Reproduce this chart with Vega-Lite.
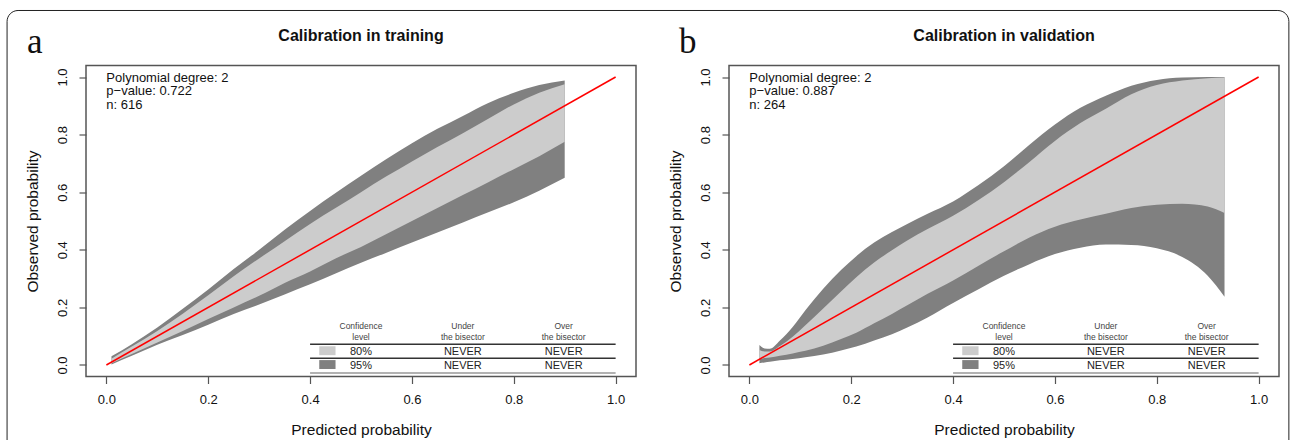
{
  "$schema": "https://vega.github.io/schema/vega-lite/v6.json",
  "background": "white",
  "autosize": {"type": "pad"},
  "padding": {"left": 5, "top": 8.5, "right": 5, "bottom": 0},
  "bounds": "flush",
  "spacing": 93,
  "config": {
    "view": {"stroke": "#555555", "strokeWidth": 1.5},
    "font": "Liberation Sans",
    "axis": {"domain": false, "grid": false, "ticks": true, "tickSize": 7, "tickColor": "#555555", "tickWidth": 1.2, "labelFont": "Liberation Sans", "labelFontSize": 13, "labelColor": "#111111", "labelPadding": 10, "titleFont": "Liberation Sans", "titleFontSize": 15.5, "titleFontWeight": "normal", "titleColor": "#111111", "titlePadding": 16},
    "axisY": {"labelAngle": -90, "labelAlign": "center", "labelBaseline": "bottom"}
  },
  "datasets": {
    "frame": [{"x": -0.195, "x2": 2.322, "y": -0.4, "y2": 1.231}],
    "bandA": [
      {"x": 0.01, "u95": 0.030, "u80": 0.022, "l80": 0.006, "l95": 0.002},
      {"x": 0.05, "u95": 0.072, "u80": 0.064, "l80": 0.038, "l95": 0.032},
      {"x": 0.10, "u95": 0.130, "u80": 0.118, "l80": 0.078, "l95": 0.070},
      {"x": 0.15, "u95": 0.195, "u80": 0.178, "l80": 0.118, "l95": 0.104},
      {"x": 0.20, "u95": 0.262, "u80": 0.242, "l80": 0.160, "l95": 0.140},
      {"x": 0.25, "u95": 0.333, "u80": 0.308, "l80": 0.200, "l95": 0.177},
      {"x": 0.30, "u95": 0.400, "u80": 0.370, "l80": 0.240, "l95": 0.210},
      {"x": 0.35, "u95": 0.470, "u80": 0.430, "l80": 0.285, "l95": 0.245},
      {"x": 0.40, "u95": 0.535, "u80": 0.490, "l80": 0.325, "l95": 0.280},
      {"x": 0.45, "u95": 0.597, "u80": 0.545, "l80": 0.370, "l95": 0.318},
      {"x": 0.50, "u95": 0.657, "u80": 0.600, "l80": 0.410, "l95": 0.355},
      {"x": 0.55, "u95": 0.715, "u80": 0.655, "l80": 0.455, "l95": 0.390},
      {"x": 0.60, "u95": 0.770, "u80": 0.707, "l80": 0.500, "l95": 0.425},
      {"x": 0.65, "u95": 0.820, "u80": 0.757, "l80": 0.545, "l95": 0.460},
      {"x": 0.70, "u95": 0.865, "u80": 0.805, "l80": 0.590, "l95": 0.495},
      {"x": 0.75, "u95": 0.910, "u80": 0.855, "l80": 0.635, "l95": 0.530},
      {"x": 0.80, "u95": 0.945, "u80": 0.905, "l80": 0.680, "l95": 0.565},
      {"x": 0.85, "u95": 0.972, "u80": 0.945, "l80": 0.725, "l95": 0.605},
      {"x": 0.90, "u95": 0.988, "u80": 0.975, "l80": 0.775, "l95": 0.650}
    ],
    "bandB": [
      {"x": 0.0197, "u95": 0.069, "u80": 0.052, "l80": 0.020, "l95": 0.006},
      {"x": 0.03, "u95": 0.057, "u80": 0.047, "l80": 0.024, "l95": 0.009},
      {"x": 0.04, "u95": 0.056, "u80": 0.047, "l80": 0.026, "l95": 0.011},
      {"x": 0.06, "u95": 0.085, "u80": 0.066, "l80": 0.032, "l95": 0.016},
      {"x": 0.085, "u95": 0.132, "u80": 0.098, "l80": 0.040, "l95": 0.021},
      {"x": 0.11, "u95": 0.190, "u80": 0.138, "l80": 0.049, "l95": 0.027},
      {"x": 0.145, "u95": 0.265, "u80": 0.196, "l80": 0.067, "l95": 0.036},
      {"x": 0.18, "u95": 0.330, "u80": 0.255, "l80": 0.090, "l95": 0.050},
      {"x": 0.21, "u95": 0.378, "u80": 0.305, "l80": 0.112, "l95": 0.064},
      {"x": 0.245, "u95": 0.425, "u80": 0.356, "l80": 0.145, "l95": 0.085},
      {"x": 0.28, "u95": 0.462, "u80": 0.398, "l80": 0.177, "l95": 0.107},
      {"x": 0.31, "u95": 0.490, "u80": 0.432, "l80": 0.207, "l95": 0.130},
      {"x": 0.35, "u95": 0.525, "u80": 0.472, "l80": 0.247, "l95": 0.165},
      {"x": 0.40, "u95": 0.568, "u80": 0.518, "l80": 0.293, "l95": 0.215},
      {"x": 0.45, "u95": 0.625, "u80": 0.573, "l80": 0.345, "l95": 0.263},
      {"x": 0.50, "u95": 0.690, "u80": 0.635, "l80": 0.395, "l95": 0.310},
      {"x": 0.55, "u95": 0.765, "u80": 0.705, "l80": 0.443, "l95": 0.350},
      {"x": 0.60, "u95": 0.835, "u80": 0.778, "l80": 0.480, "l95": 0.385},
      {"x": 0.65, "u95": 0.893, "u80": 0.840, "l80": 0.505, "l95": 0.407},
      {"x": 0.70, "u95": 0.935, "u80": 0.890, "l80": 0.525, "l95": 0.418},
      {"x": 0.75, "u95": 0.970, "u80": 0.940, "l80": 0.545, "l95": 0.417},
      {"x": 0.80, "u95": 0.990, "u80": 0.972, "l80": 0.556, "l95": 0.405},
      {"x": 0.85, "u95": 0.998, "u80": 0.988, "l80": 0.560, "l95": 0.375},
      {"x": 0.90, "u95": 1.000, "u80": 0.996, "l80": 0.550, "l95": 0.310},
      {"x": 0.933, "u95": 1.000, "u80": 0.998, "l80": 0.528, "l95": 0.237}
    ],
    "diag": [{"x": 0, "y": 0}, {"x": 1, "y": 1}],
    "annoA": [
      {"x": 0, "y": 0.996, "t": "Polynomial degree: 2"},
      {"x": 0, "y": 0.950, "t": "p−value: 0.722"},
      {"x": 0, "y": 0.903, "t": "n: 616"}
    ],
    "annoB": [
      {"x": 0, "y": 0.996, "t": "Polynomial degree: 2"},
      {"x": 0, "y": 0.950, "t": "p−value: 0.887"},
      {"x": 0, "y": 0.903, "t": "n: 264"}
    ],
    "labA": [{"x": -0.156, "y": 1.082, "t": "a"}],
    "labB": [{"x": -0.138, "y": 1.082, "t": "b"}],
    "titA": [{"x": 0.5, "y": 1.144, "t": "Calibration in training"}],
    "titB": [{"x": 0.5, "y": 1.144, "t": "Calibration in validation"}],
    "thead": [
      {"x": 0.5, "y": 0.135, "t": "Confidence"},
      {"x": 0.5, "y": 0.097, "t": "level"},
      {"x": 0.7, "y": 0.135, "t": "Under"},
      {"x": 0.7, "y": 0.097, "t": "the bisector"},
      {"x": 0.898, "y": 0.135, "t": "Over"},
      {"x": 0.898, "y": 0.097, "t": "the bisector"}
    ],
    "tbody": [
      {"x": 0.5, "y": 0.046, "t": "80%"},
      {"x": 0.7, "y": 0.046, "t": "NEVER"},
      {"x": 0.898, "y": 0.046, "t": "NEVER"},
      {"x": 0.5, "y": -0.003, "t": "95%"},
      {"x": 0.7, "y": -0.003, "t": "NEVER"},
      {"x": 0.898, "y": -0.003, "t": "NEVER"}
    ],
    "tlines": [
      {"x": 0.4, "x2": 1.0, "y": 0.072, "kind": "top"},
      {"x": 0.4, "x2": 1.0, "y": 0.023, "kind": "mid"},
      {"x": 0.4, "x2": 1.0, "y": -0.028, "kind": "bottom"}
    ],
    "tkeys": [
      {"level": "80%", "x": 0.418, "x2": 0.45, "y": 0.034, "y2": 0.065},
      {"level": "95%", "x": 0.418, "x2": 0.45, "y": -0.014, "y2": 0.017}
    ]
  },
  "hconcat": [
    {
      "width": 550,
      "height": 311,
      "layer": [
        {
          "data": {"name": "frame"},
          "mark": {"type": "rect", "fill": "transparent", "stroke": "#222222", "strokeWidth": 1, "cornerRadius": 11},
          "encoding": {
            "x": {"field": "x", "type": "quantitative", "title": "Predicted probability", "scale": {"domain": [-0.04, 1.04], "nice": false, "zero": false}, "axis": {"values": [0, 0.2, 0.4, 0.6, 0.8, 1], "format": ".1f"}},
            "x2": {"field": "x2"},
            "y": {"field": "y", "type": "quantitative", "title": "Observed probability", "scale": {"domain": [-0.04, 1.04], "nice": false, "zero": false}, "axis": {"values": [0, 0.2, 0.4, 0.6, 0.8, 1], "format": ".1f"}},
            "y2": {"field": "y2"}
          }
        },
        {
          "data": {"name": "bandA"},
          "mark": {"type": "area", "color": "#808080", "interpolate": "monotone"},
          "encoding": {
            "x": {"field": "x", "type": "quantitative", "title": "Predicted probability"},
            "y": {"field": "l95", "type": "quantitative", "title": "Observed probability"},
            "y2": {"field": "u95"}
          }
        },
        {
          "data": {"name": "bandA"},
          "mark": {"type": "area", "color": "#cccccc", "interpolate": "monotone"},
          "encoding": {
            "x": {"field": "x", "type": "quantitative", "title": "Predicted probability"},
            "y": {"field": "l80", "type": "quantitative", "title": "Observed probability"},
            "y2": {"field": "u80"}
          }
        },
        {
          "data": {"name": "diag"},
          "mark": {"type": "line", "color": "#ff0000", "strokeWidth": 1.5},
          "encoding": {
            "x": {"field": "x", "type": "quantitative", "title": "Predicted probability"},
            "y": {"field": "y", "type": "quantitative", "title": "Observed probability"}
          }
        },
        {
          "data": {"name": "annoA"},
          "mark": {"type": "text", "align": "left", "baseline": "middle", "fontSize": 13, "color": "#111111", "font": "Liberation Sans"},
          "encoding": {
            "x": {"field": "x", "type": "quantitative", "title": "Predicted probability"},
            "y": {"field": "y", "type": "quantitative", "title": "Observed probability"},
            "text": {"field": "t"}
          }
        },
        {
          "data": {"name": "labA"},
          "mark": {"type": "text", "align": "left", "baseline": "alphabetic", "fontSize": 35, "color": "#111111", "font": "Liberation Serif"},
          "encoding": {
            "x": {"field": "x", "type": "quantitative", "title": "Predicted probability"},
            "y": {"field": "y", "type": "quantitative", "title": "Observed probability"},
            "text": {"field": "t"}
          }
        },
        {
          "data": {"name": "titA"},
          "mark": {"type": "text", "align": "center", "baseline": "middle", "fontSize": 16, "fontWeight": "bold", "color": "#111111", "font": "Liberation Sans"},
          "encoding": {
            "x": {"field": "x", "type": "quantitative", "title": "Predicted probability"},
            "y": {"field": "y", "type": "quantitative", "title": "Observed probability"},
            "text": {"field": "t"}
          }
        },
        {
          "data": {"name": "tlines"},
          "mark": {"type": "rule", "strokeWidth": 1.5},
          "encoding": {
            "x": {"field": "x", "type": "quantitative", "title": "Predicted probability"},
            "x2": {"field": "x2"},
            "y": {"field": "y", "type": "quantitative", "title": "Observed probability"},
            "color": {"field": "kind", "type": "nominal", "legend": null, "scale": {"domain": ["top", "mid", "bottom"], "range": ["#333333", "#333333", "#999999"]}}
          }
        },
        {
          "data": {"name": "tkeys"},
          "mark": {"type": "rect"},
          "encoding": {
            "x": {"field": "x", "type": "quantitative", "title": "Predicted probability"},
            "x2": {"field": "x2"},
            "y": {"field": "y", "type": "quantitative", "title": "Observed probability"},
            "y2": {"field": "y2"},
            "fill": {"field": "level", "type": "nominal", "legend": null, "scale": {"domain": ["80%", "95%"], "range": ["#cccccc", "#808080"]}}
          }
        },
        {
          "data": {"name": "thead"},
          "mark": {"type": "text", "align": "center", "baseline": "middle", "fontSize": 8.5, "color": "#444444", "font": "Liberation Sans"},
          "encoding": {
            "x": {"field": "x", "type": "quantitative", "title": "Predicted probability"},
            "y": {"field": "y", "type": "quantitative", "title": "Observed probability"},
            "text": {"field": "t"}
          }
        },
        {
          "data": {"name": "tbody"},
          "mark": {"type": "text", "align": "center", "baseline": "middle", "fontSize": 11, "color": "#222222", "font": "Liberation Sans"},
          "encoding": {
            "x": {"field": "x", "type": "quantitative", "title": "Predicted probability"},
            "y": {"field": "y", "type": "quantitative", "title": "Observed probability"},
            "text": {"field": "t"}
          }
        }
      ]
    },
    {
      "width": 550,
      "height": 311,
      "layer": [
        {
          "data": {"name": "bandB"},
          "mark": {"type": "area", "color": "#808080", "interpolate": "monotone"},
          "encoding": {
            "x": {"field": "x", "type": "quantitative", "title": "Predicted probability", "scale": {"domain": [-0.04, 1.04], "nice": false, "zero": false}, "axis": {"values": [0, 0.2, 0.4, 0.6, 0.8, 1], "format": ".1f"}},
            "y": {"field": "l95", "type": "quantitative", "title": "Observed probability", "scale": {"domain": [-0.04, 1.04], "nice": false, "zero": false}, "axis": {"values": [0, 0.2, 0.4, 0.6, 0.8, 1], "format": ".1f"}},
            "y2": {"field": "u95"}
          }
        },
        {
          "data": {"name": "bandB"},
          "mark": {"type": "area", "color": "#cccccc", "interpolate": "monotone"},
          "encoding": {
            "x": {"field": "x", "type": "quantitative", "title": "Predicted probability"},
            "y": {"field": "l80", "type": "quantitative", "title": "Observed probability"},
            "y2": {"field": "u80"}
          }
        },
        {
          "data": {"name": "diag"},
          "mark": {"type": "line", "color": "#ff0000", "strokeWidth": 1.5},
          "encoding": {
            "x": {"field": "x", "type": "quantitative", "title": "Predicted probability"},
            "y": {"field": "y", "type": "quantitative", "title": "Observed probability"}
          }
        },
        {
          "data": {"name": "annoB"},
          "mark": {"type": "text", "align": "left", "baseline": "middle", "fontSize": 13, "color": "#111111", "font": "Liberation Sans"},
          "encoding": {
            "x": {"field": "x", "type": "quantitative", "title": "Predicted probability"},
            "y": {"field": "y", "type": "quantitative", "title": "Observed probability"},
            "text": {"field": "t"}
          }
        },
        {
          "data": {"name": "labB"},
          "mark": {"type": "text", "align": "left", "baseline": "alphabetic", "fontSize": 35, "color": "#111111", "font": "Liberation Serif"},
          "encoding": {
            "x": {"field": "x", "type": "quantitative", "title": "Predicted probability"},
            "y": {"field": "y", "type": "quantitative", "title": "Observed probability"},
            "text": {"field": "t"}
          }
        },
        {
          "data": {"name": "titB"},
          "mark": {"type": "text", "align": "center", "baseline": "middle", "fontSize": 16, "fontWeight": "bold", "color": "#111111", "font": "Liberation Sans"},
          "encoding": {
            "x": {"field": "x", "type": "quantitative", "title": "Predicted probability"},
            "y": {"field": "y", "type": "quantitative", "title": "Observed probability"},
            "text": {"field": "t"}
          }
        },
        {
          "data": {"name": "tlines"},
          "mark": {"type": "rule", "strokeWidth": 1.5},
          "encoding": {
            "x": {"field": "x", "type": "quantitative", "title": "Predicted probability"},
            "x2": {"field": "x2"},
            "y": {"field": "y", "type": "quantitative", "title": "Observed probability"},
            "color": {"field": "kind", "type": "nominal", "legend": null, "scale": {"domain": ["top", "mid", "bottom"], "range": ["#333333", "#333333", "#999999"]}}
          }
        },
        {
          "data": {"name": "tkeys"},
          "mark": {"type": "rect"},
          "encoding": {
            "x": {"field": "x", "type": "quantitative", "title": "Predicted probability"},
            "x2": {"field": "x2"},
            "y": {"field": "y", "type": "quantitative", "title": "Observed probability"},
            "y2": {"field": "y2"},
            "fill": {"field": "level", "type": "nominal", "legend": null, "scale": {"domain": ["80%", "95%"], "range": ["#cccccc", "#808080"]}}
          }
        },
        {
          "data": {"name": "thead"},
          "mark": {"type": "text", "align": "center", "baseline": "middle", "fontSize": 8.5, "color": "#444444", "font": "Liberation Sans"},
          "encoding": {
            "x": {"field": "x", "type": "quantitative", "title": "Predicted probability"},
            "y": {"field": "y", "type": "quantitative", "title": "Observed probability"},
            "text": {"field": "t"}
          }
        },
        {
          "data": {"name": "tbody"},
          "mark": {"type": "text", "align": "center", "baseline": "middle", "fontSize": 11, "color": "#222222", "font": "Liberation Sans"},
          "encoding": {
            "x": {"field": "x", "type": "quantitative", "title": "Predicted probability"},
            "y": {"field": "y", "type": "quantitative", "title": "Observed probability"},
            "text": {"field": "t"}
          }
        }
      ]
    }
  ]
}
